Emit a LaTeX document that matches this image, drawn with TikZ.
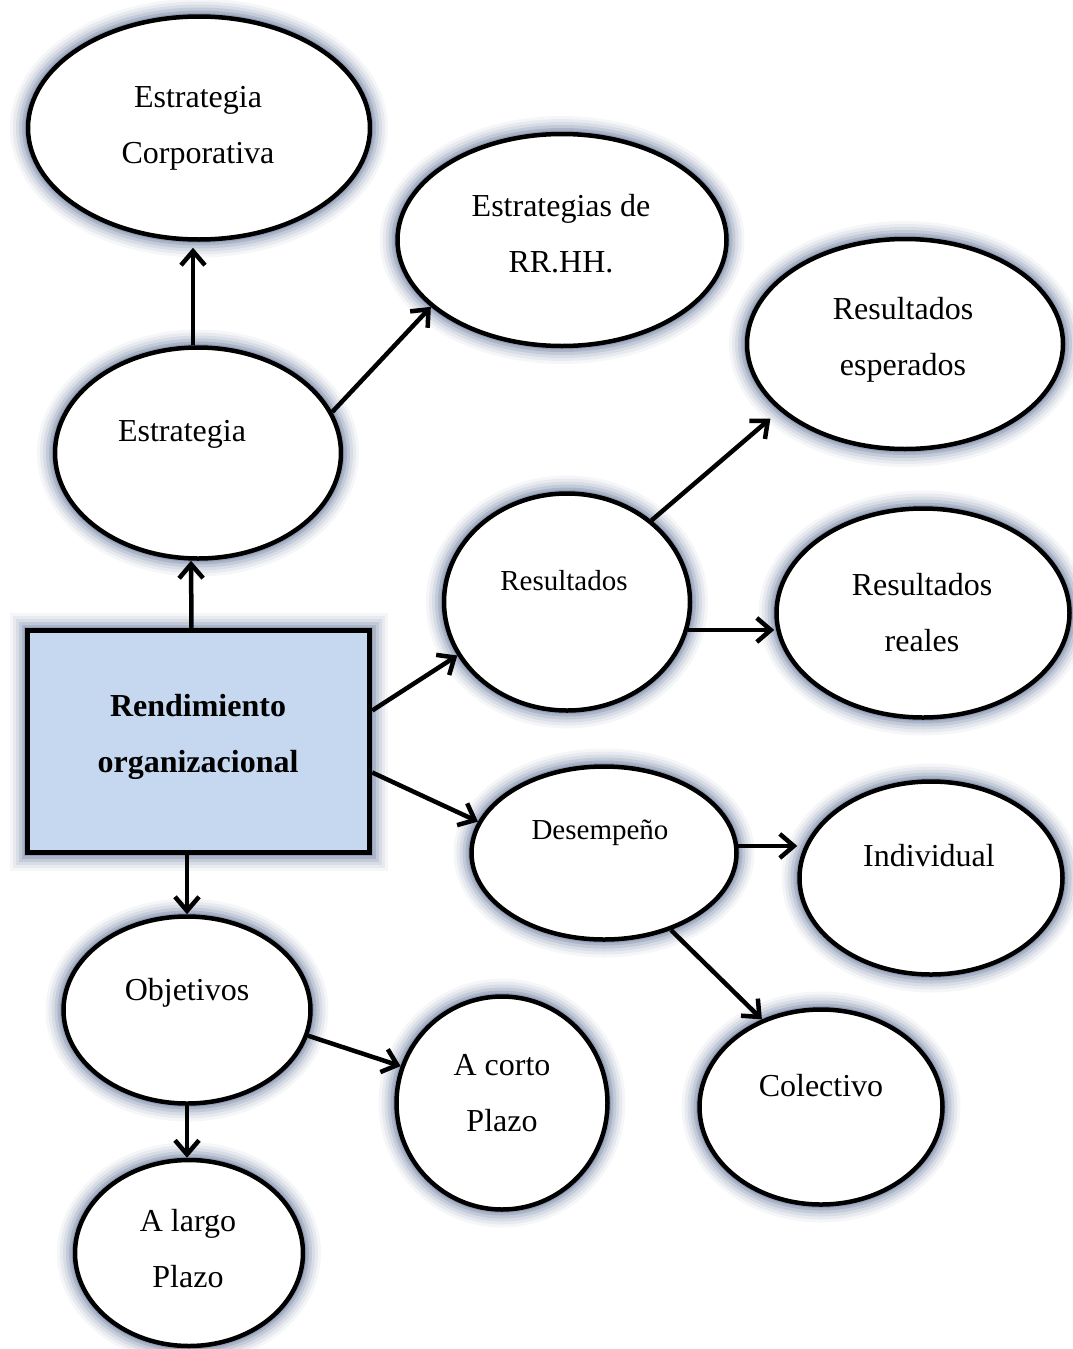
\documentclass[tikz,border=0pt]{standalone}
\usepackage{fontspec}
\setmainfont{Liberation Serif}
\usetikzlibrary{arrows.meta,shapes.geometric}
\definecolor{halocol}{RGB}{80,100,140}
\definecolor{boxblue}{RGB}{197,216,240}
\tikzset{
  halo/.style={
    preaction={draw=halocol,line width=36pt,draw opacity=0.06},
    preaction={draw=halocol,line width=30pt,draw opacity=0.08},
    preaction={draw=halocol,line width=24pt,draw opacity=0.11},
    preaction={draw=halocol,line width=18pt,draw opacity=0.15},
    preaction={draw=halocol,line width=12pt,draw opacity=0.20},
    preaction={draw=halocol,line width=7pt,draw opacity=0.28}},
  bubble/.style={ellipse,halo,draw=black,fill=white,line width=4.5pt,inner sep=0pt},
  mainbox/.style={rectangle,halo,draw=black,fill=boxblue,line width=5.5pt,inner sep=0pt},
  txt/.style={font=\fontsize{32}{56}\selectfont,align=center,inner sep=0pt},
  txtsmall/.style={font=\fontsize{29}{50}\selectfont,align=center,inner sep=0pt},
  link/.style={line width=4.5pt,-{Straight Barb[length=14pt,width=24pt]}},
}
\begin{document}
\begin{tikzpicture}[x=1pt,y=-1pt]
\useasboundingbox (0,0) rectangle (1073,1349);

% shapes
\node[bubble,minimum width=342pt,minimum height=223pt] (corp) at (199,128) {};
\node[bubble,minimum width=329pt,minimum height=212pt] (rrhh) at (562,240) {};
\node[bubble,minimum width=316pt,minimum height=210pt] (esper) at (905,344) {};
\node[bubble,minimum width=286pt,minimum height=211pt] (estr) at (198,453) {};
\node[bubble,minimum width=246pt,minimum height=217pt] (res) at (567,602) {};
\node[bubble,minimum width=293pt,minimum height=209pt] (reales) at (923,613) {};
\node[mainbox,minimum width=342pt,minimum height=222pt] (rend) at (198.5,741.5) {};
\node[bubble,minimum width=265pt,minimum height=173pt] (desem) at (604,853) {};
\node[bubble,minimum width=263pt,minimum height=193pt] (indiv) at (931,878) {};
\node[bubble,minimum width=247pt,minimum height=187pt] (obj) at (187,1010) {};
\node[bubble,minimum width=211pt,minimum height=213pt] (corto) at (502,1103) {};
\node[bubble,minimum width=243pt,minimum height=195pt] (colec) at (821,1107) {};
\node[bubble,minimum width=228pt,minimum height=186pt] (largo) at (189,1253) {};

% labels
\node[txt] (corp-t) at (198,128) {Estrategia\\Corporativa};
\node[txt] (rrhh-t) at (561,234) {Estrategias de\\RR.HH.};
\node[txt] (esper-t) at (903,340) {Resultados\\esperados};
\node[txt] (estr-t) at (182,434) {Estrategia};
\node[txtsmall] (res-t) at (564,581) {Resultados};
\node[txt] (reales-t) at (922,613) {Resultados\\reales};
\node[txt,font=\fontsize{32}{56}\selectfont\bfseries] (rend-t) at (198,737) {Rendimiento\\organizacional};
\node[txtsmall] (desem-t) at (600,833) {Desempeño};
\node[txt] (indiv-t) at (929,856) {Individual};
\node[txt] (obj-t) at (187,993) {Objetivos};
\node[txt] (corto-t) at (502,1093) {A corto\\Plazo};
\node[txt] (colec-t) at (821,1086) {Colectivo};
\node[txt] (largo-t) at (188,1249) {A largo\\Plazo};

% connectors
\draw[link,shorten >=6pt] ([xshift=-5pt]estr.north) -- ([xshift=-6pt]corp.south);
\draw[link] (estr.17) -- (rrhh.207);
\draw[link] ([xshift=-7pt]rend.north) -- ([xshift=-7pt]estr.south);
\draw[link] ([yshift=31pt]rend.east) -- (res.206);
\draw[link] ([yshift=-31pt]rend.east) -- (desem.166);
\draw[link] (rend.south -| obj.north) -- (obj.north);
\draw[link,shorten >=12pt] (res.44) -- (esper.208);
\draw[link] (res.-13) -- (res.-13 -| reales.west);
\draw[link] (desem.3) -- (desem.3 -| indiv.west);
\draw[link] (desem.-49) -- (colec.124);
\draw[link] (obj.-12) -- (corto.160);
\draw[link] (obj.south) -- (obj.south |- largo.north);
\end{tikzpicture}
\end{document}
